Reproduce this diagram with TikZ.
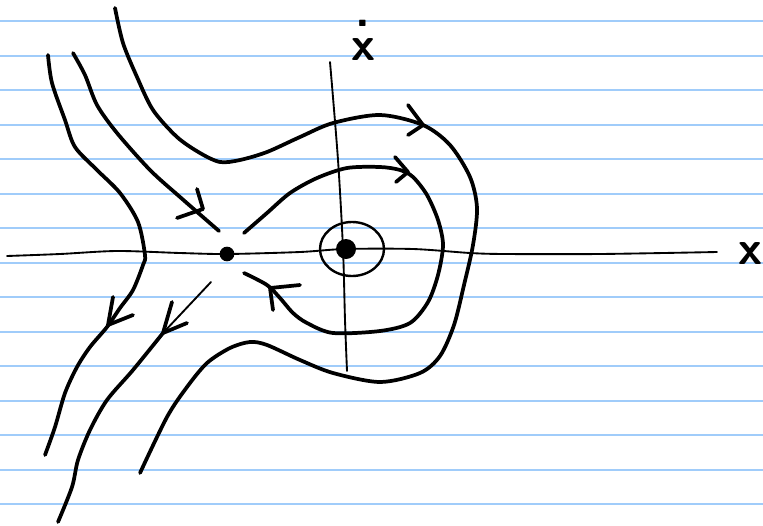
\documentclass[tikz,border=0pt]{standalone}
\usepackage{xcolor}
\usepackage{tikz}
\usetikzlibrary{positioning}
\definecolor{ruleblue}{RGB}{160,204,250}

\begin{document}
\begin{tikzpicture}[x=0.75pt, y=-0.75pt, line cap=round, line join=round, rule/.style={ruleblue, line width=1.5pt}, axis/.style={line width=1.4pt}, orbit/.style={line width=2.8pt}, thinorbit/.style={line width=1.4pt}, head/.style={line width=2.8pt}, fixpt/.style={circle, fill, inner sep=0pt}, lab/.style={font=\fontsize{36}{26}\selectfont\sffamily\bfseries, inner sep=0pt}]
\useasboundingbox (0,0) rectangle (763,525);
\foreach \y in {21,55.5,90,124.5,159,193.5,228,262.5,297,331.5,366,400.5,435,469.5,504}
  \draw[rule] (0,\y) -- (763,\y);
% axes
\draw[axis] plot[smooth] coordinates {(7,256) (60,254) (117,251) (180,253) (227,254) (300,252) (345,249) (413,249) (470,253) (505,254) (600,254) (717,252)};
\draw[axis] plot[smooth] coordinates {(330,62) (338,160) (343,249) (345,320) (347,371)};
\node[lab] (xlab) at (750,254) {x};
\node[lab, align=center, anchor=south] (xdotlab) at (363,61) {.\\x};
% fixed points
\node[fixpt, minimum size=11pt] (saddle) at (227,254) {};
\node[fixpt, minimum size=15pt] (centre) at (346,249) {};
\draw[line width=1.8pt] (352,249) ellipse [x radius=32, y radius=27];
% orbits round the centre
\draw[orbit] plot[smooth] coordinates {(244,233) (267,213) (290,193) (317,178) (347,168) (380,167) (400,170) (413,177) (427,195) (438,220) (443,245) (438,275) (428,302) (410,323) (380,331) (333,333) (307,323) (293,313) (280,298) (267,285) (244,273)};
\draw[orbit] plot[smooth] coordinates {(115,8) (123,43) (137,77) (153,110) (177,137) (200,153) (220,162) (240,160) (267,152) (300,137) (333,123) (380,115) (423,125) (450,145) (470,177) (477,208) (473,245) (464,285) (454,325) (440,356) (420,373) (380,382) (333,373) (300,360) (267,345) (250,342) (230,348) (207,363) (187,387) (167,417) (140,473)};
% curves near the saddle
\draw[orbit] plot[smooth] coordinates {(48,55) (52,83) (65,120) (75,147) (97,170) (120,193) (138,222) (145,255) (143,265) (133,290) (120,308) (107,327) (90,347) (77,367) (65,393) (55,427) (45,455)};
\draw[orbit] plot[smooth] coordinates {(73,53) (85,75) (97,105) (117,133) (150,170) (180,197) (219,231)};
\draw[thinorbit] (211,282) -- (163,333);
\draw[orbit] plot[smooth] coordinates {(163,333) (133,370) (107,400) (90,430) (78,460) (72,487) (58,522)};
% arrow heads
\draw[head] (408,105) -- (423,125) -- (408,135);
\draw[head] (395,157) -- (408,172) -- (396,182);
\draw[head] (300,285) -- (270,288) -- (273,310);
\draw[head] (197,189) -- (203,209) -- (177,218);
\draw[head] (113,297) -- (108,325) -- (133,315);
\draw[head] (172,302) -- (163,333) -- (187,323);
\end{tikzpicture}
\end{document}
